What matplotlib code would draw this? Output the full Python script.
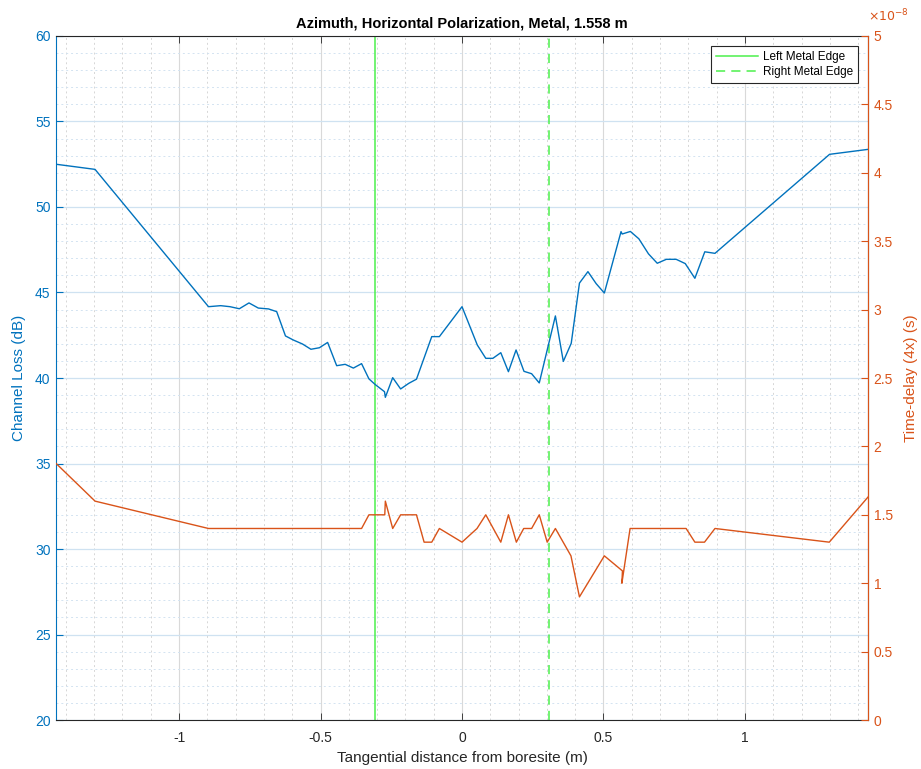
import matplotlib
matplotlib.use("Agg")
import matplotlib.pyplot as plt
from matplotlib.ticker import MultipleLocator, FuncFormatter
from matplotlib.lines import Line2D

plt.rcParams['font.family'] = ['Liberation Sans', 'DejaVu Sans']

# Channel loss (dB) versus tangential distance (m)
loss_x = [-1.435, -1.297, -0.896, -0.853, -0.820, -0.787, -0.753, -0.720, -0.684,
          -0.655, -0.624, -0.596, -0.564, -0.534, -0.504, -0.475, -0.443, -0.413,
          -0.384, -0.355, -0.329, -0.307, -0.274, -0.271, -0.245, -0.217, -0.188,
          -0.161, -0.107, -0.080, 0.000, 0.054, 0.084, 0.109, 0.137, 0.164, 0.191,
          0.219, 0.246, 0.273, 0.330, 0.358, 0.386, 0.415, 0.445, 0.474, 0.503,
          0.562, 0.566, 0.595, 0.625, 0.659, 0.690, 0.722, 0.757, 0.789, 0.823,
          0.858, 0.894, 1.299, 1.435]
loss_db = [52.50, 52.20, 44.17, 44.23, 44.17, 44.05, 44.39, 44.09, 44.04,
           43.88, 42.46, 42.22, 41.99, 41.68, 41.77, 42.08, 40.72, 40.80,
           40.58, 40.84, 39.95, 39.62, 39.20, 38.87, 40.02, 39.36, 39.69,
           39.93, 42.42, 42.42, 44.17, 41.93, 41.15, 41.15, 41.48, 40.37, 41.64,
           40.39, 40.25, 39.71, 43.63, 40.97, 42.03, 45.55, 46.22, 45.52, 44.97,
           48.56, 48.42, 48.57, 48.14, 47.26, 46.71, 46.94, 46.94, 46.69, 45.83,
           47.38, 47.29, 53.08, 53.37]

# Time delay (s) versus tangential distance (m)
delay_x = [-1.435, -1.297, -0.896, -0.355, -0.329, -0.273, -0.271, -0.245, -0.217,
           -0.161, -0.134, -0.107, -0.080, 0.000, 0.053, 0.084, 0.137, 0.164,
           0.192, 0.218, 0.246, 0.273, 0.301, 0.330, 0.385, 0.415, 0.503, 0.567,
           0.565, 0.594, 0.792, 0.823, 0.857, 0.894, 1.298, 1.435]
delay_s = [1.876e-8, 1.60e-8, 1.40e-8, 1.40e-8, 1.50e-8, 1.50e-8, 1.60e-8, 1.40e-8, 1.50e-8,
           1.50e-8, 1.30e-8, 1.30e-8, 1.40e-8, 1.30e-8, 1.40e-8, 1.50e-8, 1.30e-8, 1.50e-8,
           1.30e-8, 1.40e-8, 1.40e-8, 1.50e-8, 1.30e-8, 1.40e-8, 1.20e-8, 0.90e-8, 1.20e-8, 1.09e-8,
           1.00e-8, 1.40e-8, 1.40e-8, 1.30e-8, 1.30e-8, 1.40e-8, 1.30e-8, 1.63e-8]

# Metal plate edges (m)
left_edge = -0.308
right_edge = 0.308

blue = '#0072BD'
orange = '#D95319'
green = '#4cf04c'
dark = '#262626'

fig = plt.figure(figsize=(9.21, 7.69), dpi=100)
ax = fig.add_axes([0.0608, 0.0637, 0.8817, 0.8895])
ax2 = ax.twinx()

# Grid drawn underneath everything
ax.set_axisbelow(True)
ax.xaxis.set_minor_locator(MultipleLocator(0.1))
ax.yaxis.set_minor_locator(MultipleLocator(1))
ax.grid(which='major', axis='x', color='#d9d9d9', linewidth=0.8)
ax.grid(which='minor', axis='x', color='#d6d6d6', linewidth=0.7, linestyle=(0, (2, 3)))
ax.grid(which='major', axis='y', color='#cfe2f1', linewidth=0.9)
ax.grid(which='minor', axis='y', color='#d3e3f1', linewidth=0.7, linestyle=(0, (2, 3)))

ax.plot(loss_x, loss_db, color=blue, linewidth=1.0, zorder=3)
ax.axvline(left_edge, color=green, linewidth=1.1, zorder=2)
ax.axvline(right_edge, color=green, linewidth=1.1, linestyle=(0, (6, 4)), zorder=2)
ax2.plot(delay_x, delay_s, color=orange, linewidth=1.0)

ax.set_xlim(-1.435, 1.435)
ax.set_ylim(20, 60)
ax2.set_ylim(0, 5e-8)
ax.set_xticks([-1, -0.5, 0, 0.5, 1])
ax.set_xticklabels(['-1', '-0.5', '0', '0.5', '1'])
ax.set_yticks(range(20, 61, 5))
ax2.set_yticks([i * 0.5e-8 for i in range(11)])
ax2.yaxis.set_major_formatter(FuncFormatter(lambda v, p: f'{v / 1e-8:g}'))

# Tick styling
ax.tick_params(axis='x', which='major', direction='in', length=5, width=0.6,
               colors=dark, labelsize=10, top=True, pad=8)
ax.tick_params(axis='both', which='minor', length=0)
ax.tick_params(axis='y', which='major', direction='in', length=5, width=0.8,
               colors=blue, labelsize=10, pad=4)
ax2.tick_params(axis='y', which='major', direction='in', length=5, width=0.8,
                colors=orange, labelsize=10, pad=4)
ax2.tick_params(axis='y', which='minor', length=0)

for s in ['top', 'bottom']:
    ax.spines[s].set_color(dark)
    ax.spines[s].set_linewidth(0.8)
ax.spines['left'].set_color(blue)
ax.spines['left'].set_linewidth(0.8)
ax2.spines['right'].set_color(orange)
ax2.spines['right'].set_linewidth(0.8)
ax2.spines['left'].set_visible(False)
ax2.spines['top'].set_visible(False)
ax2.spines['bottom'].set_visible(False)

ax.set_xlabel('Tangential distance from boresite (m)', fontsize=11, color=dark, labelpad=4)
ax.set_ylabel('Channel Loss (dB)', fontsize=11, color=blue, labelpad=6)
ax2.set_ylabel('Time-delay (4x) (s)', fontsize=11, color=orange, labelpad=8)
ax.set_title('Azimuth, Horizontal Polarization, Metal, 1.558 m',
             fontsize=10.5, fontweight='bold', color='black', pad=6)
ax2.text(1.0, 1.017, r'$\times10^{-8}$', transform=ax2.transAxes, color=orange,
         fontsize=9, ha='left', va='bottom')

handles = [Line2D([], [], color=green, linewidth=1.1),
           Line2D([], [], color=green, linewidth=1.1, linestyle=(0, (6, 4)))]
leg = ax2.legend(handles, ['Left Metal Edge', 'Right Metal Edge'], loc='upper right',
                 fontsize=8.5, frameon=True, fancybox=False, framealpha=1,
                 edgecolor=dark, borderpad=0.4, handlelength=3.6, labelspacing=0.3,
                 handletextpad=0.4, borderaxespad=0,
                 bbox_to_anchor=(0.9877, 0.9854))
leg.get_frame().set_linewidth(0.8)

fig.savefig('out.png', dpi=100, facecolor='white')
